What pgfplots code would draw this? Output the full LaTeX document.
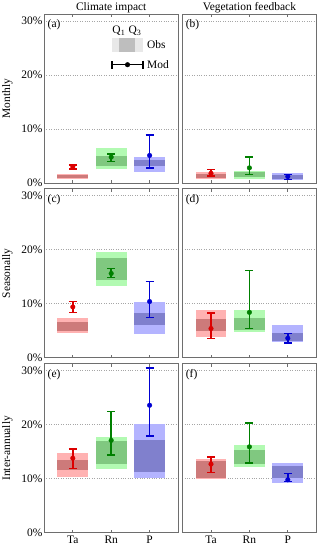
\documentclass[border=0pt]{standalone}
\usepackage{fontspec}
\setmainfont{Liberation Serif}
\usepackage{pgfplots}
\pgfplotsset{compat=1.18}
\definecolor{redL}{RGB}{255,178,178}
\definecolor{redD}{RGB}{205,122,122}
\definecolor{greenL}{RGB}{178,250,178}
\definecolor{greenD}{RGB}{128,200,128}
\definecolor{blueL}{RGB}{180,180,255}
\definecolor{blueD}{RGB}{128,128,205}
\definecolor{redM}{RGB}{220,0,0}
\definecolor{greenM}{RGB}{0,128,0}
\definecolor{blueM}{RGB}{0,0,210}
\definecolor{frame}{RGB}{110,110,110}
\definecolor{legL}{RGB}{232,232,232}
\definecolor{legD}{RGB}{190,190,190}

\newcommand{\fs}{\fontsize{11.5}{13}\selectfont}

\pgfplotsset{
  panel/.style={
    scale only axis, width=134.4bp, height=168.75bp, anchor=south west,
    xmin=0.25, xmax=3.75, ymin=0, ymax=31.25,
    xtick={1,2,3}, xtick pos=both, xticklabel pos=lower, tick align=inside,
    major tick length=3bp,
    ytick={0,10,20,30},
    ymajorgrids, grid style={dotted, gray!70, line width=0.7bp},
    axis line style={frame, line width=0.9bp},
    xtick style={frame, line width=0.7bp},
    ytick style={draw=none},
    /pgf/number format/assume math mode=true,
    tick label style={font=\fs},
    label style={font=\fs},
    ylabel style={at={(axis description cs:-0.273,0.5)}, anchor=center},
    yticklabel style={inner xsep=1.5bp},
    clip=false,
  },
  leftp/.style={panel, yticklabel={\pgfmathprintnumber{\tick}\%}},
  rightp/.style={panel, yticklabels={}},
  toprow/.style={xticklabels={}},
  botrow/.style={xticklabels={Ta,Rn,P}},
  mod/.style={#1, mark=*, only marks, mark size=2.3bp,
    error bars/.cd, y dir=both, y explicit, error mark=|,
    error bar style={line width=1.5bp, draw=#1},
    error mark options={line width=1.4bp, mark size=4bp, draw=#1}},
}

% \obs{xl}{xr}{lo}{q1}{q3}{hi}{light}{dark}
\newcommand{\obs}[8]{%
  \addplot[fill=#7, draw=none] coordinates {(#1,#3) (#2,#3) (#2,#6) (#1,#6)} -- cycle;
  \addplot[fill=#8, draw=none] coordinates {(#1,#4) (#2,#4) (#2,#5) (#1,#5)} -- cycle;
}
\newcommand{\plabel}[1]{\node[anchor=north west, inner sep=0pt, xshift=3.5bp, yshift=-5.5bp, font=\fs] at (rel axis cs:0,1) {#1};}
\newcommand{\ptitle}[1]{\node[anchor=base, inner sep=0pt, yshift=3.3bp, font=\fs] at (rel axis cs:0.5,1) {#1};}

\begin{document}
\begin{tikzpicture}
\useasboundingbox (0,0) rectangle (320bp,550bp);

% (a)
\begin{axis}[leftp, toprow, at={(44bp,367bp)}, ylabel={Monthly}]
\obs{0.6}{1.4}{0.75}{0.95}{1.45}{1.65}{redL}{redD}
\obs{1.6}{2.4}{2.6}{3.1}{5.0}{6.55}{greenL}{greenD}
\obs{2.6}{3.4}{1.95}{3.2}{4.35}{4.9}{blueL}{blueD}
\addplot[mod=redM] coordinates {(1,3.0) += (0,0.3) -= (0,0.4)};
\addplot[mod=greenM] coordinates {(2,4.8) += (0,0.55) -= (0,0.8)};
\addplot[mod=blueM] coordinates {(3,5.1) += (0,3.8) -= (0,2.3)};
% legend
\addplot[fill=legL, draw=none] coordinates {(2.02,24.3) (2.83,24.3) (2.83,26.9) (2.02,26.9)} -- cycle;
\addplot[fill=legD, draw=none] coordinates {(2.2,24.3) (2.62,24.3) (2.62,26.9) (2.2,26.9)} -- cycle;
\addplot[black, mark=*, only marks, mark size=2.3bp,
  error bars/.cd, x dir=both, x explicit, error mark=|,
  error bar style={line width=1.5bp, draw=black},
  error mark options={line width=1.4bp, mark size=4bp, draw=black}]
  coordinates {(2.425,21.9) +- (0.405,0)};
\node[anchor=base, inner sep=0pt, font=\fs] at (axis cs:2.2,27.7) {Q\textsubscript{1}};
\node[anchor=base, inner sep=0pt, font=\fs] at (axis cs:2.62,27.7) {Q\textsubscript{3}};
\node[anchor=west, inner sep=0pt, font=\fs] at (axis cs:2.93,25.6) {Obs};
\node[anchor=west, inner sep=0pt, font=\fs] at (axis cs:2.93,21.9) {Mod};
\plabel{(a)}
\ptitle{Climate impact}
\end{axis}

% (b)
\begin{axis}[rightp, toprow, at={(182.2bp,367bp)}]
\obs{0.6}{1.4}{0.7}{0.9}{1.75}{2.1}{redL}{redD}
\obs{1.6}{2.4}{0.8}{1.05}{2.0}{2.25}{greenL}{greenD}
\obs{2.6}{3.4}{0.5}{0.75}{1.55}{1.9}{blueL}{blueD}
\addplot[mod=redM] coordinates {(1,1.8) += (0,0.65) -= (0,0.5)};
\addplot[mod=greenM] coordinates {(2,2.8) += (0,2.05) -= (0,1.2)};
\addplot[mod=blueM] coordinates {(3,1.2) += (0,0.4) -= (0,0.5)};
\plabel{(b)}
\ptitle{Vegetation feedback}
\end{axis}

% (c)
\begin{axis}[leftp, toprow, at={(44bp,192.3bp)}, ylabel={Seasonally}]
\obs{0.6}{1.4}{4.6}{5.0}{6.7}{7.3}{redL}{redD}
\obs{1.6}{2.4}{13.3}{14.4}{18.4}{19.6}{greenL}{greenD}
\obs{2.6}{3.4}{4.4}{6.0}{8.3}{10.4}{blueL}{blueD}
\addplot[mod=redM] coordinates {(1,9.4) += (0,1.0) -= (0,1.0)};
\addplot[mod=greenM] coordinates {(2,15.6) += (0,0.9) -= (0,0.7)};
\addplot[mod=blueM] coordinates {(3,10.4) += (0,3.7) -= (0,3.0)};
\plabel{(c)}
\end{axis}

% (d)
\begin{axis}[rightp, toprow, at={(182.2bp,192.3bp)}]
\obs{0.6}{1.4}{3.8}{4.9}{7.15}{8.9}{redL}{redD}
\obs{1.6}{2.4}{4.75}{5.1}{7.4}{8.8}{greenL}{greenD}
\obs{2.6}{3.4}{2.9}{3.1}{4.6}{6.0}{blueL}{blueD}
\addplot[mod=redM] coordinates {(1,5.4) += (0,2.9) -= (0,1.9)};
\addplot[mod=greenM] coordinates {(2,8.4) += (0,7.7) -= (0,3.0)};
\addplot[mod=blueM] coordinates {(3,3.6) += (0,0.9) -= (0,0.9)};
\plabel{(d)}
\end{axis}

% (e)
\begin{axis}[leftp, botrow, at={(44bp,17.3bp)}, ylabel={Inter-annually}]
\obs{0.6}{1.4}{10.4}{11.55}{13.55}{14.85}{redL}{redD}
\obs{1.6}{2.4}{11.8}{12.8}{16.95}{17.75}{greenL}{greenD}
\obs{2.6}{3.4}{10.2}{11.25}{17.2}{20.1}{blueL}{blueD}
\addplot[mod=redM] coordinates {(1,13.8) += (0,1.7) -= (0,1.9)};
\addplot[mod=greenM] coordinates {(2,17.1) += (0,5.3) -= (0,2.7)};
\addplot[mod=blueM] coordinates {(3,23.6) += (0,6.9) -= (0,5.7)};
\plabel{(e)}
\end{axis}

% (f)
\begin{axis}[rightp, botrow, at={(182.2bp,17.3bp)}]
\obs{0.6}{1.4}{9.9}{10.2}{13.25}{13.7}{redL}{redD}
\obs{1.6}{2.4}{12.2}{12.8}{15.35}{16.15}{greenL}{greenD}
\obs{2.6}{3.4}{9.25}{10.1}{12.3}{12.95}{blueL}{blueD}
\addplot[mod=redM] coordinates {(1,12.7) += (0,1.3) -= (0,1.5)};
\addplot[mod=greenM] coordinates {(2,15.9) += (0,4.4) -= (0,3.0)};
\addplot[mod=blueM] coordinates {(3,9.8) += (0,1.2) -= (0,0.3)};
\plabel{(f)}
\end{axis}
\end{tikzpicture}
\end{document}
